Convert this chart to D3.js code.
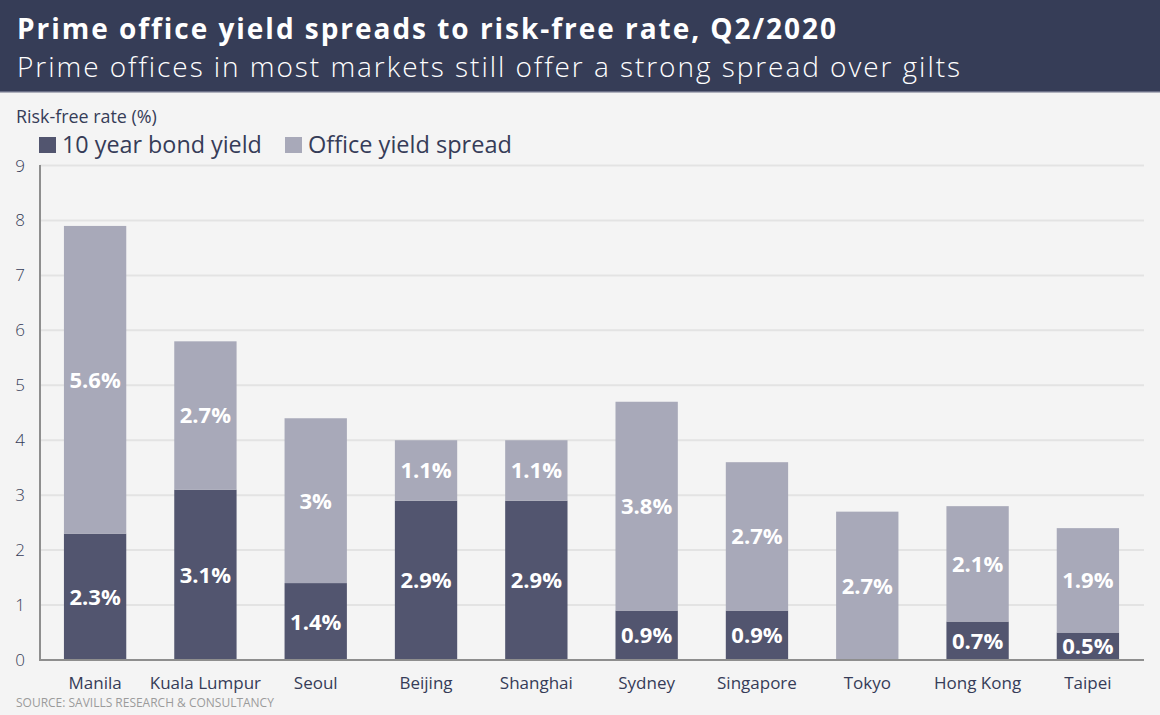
<!DOCTYPE html>
<html>
<head>
<meta charset="utf-8">
<script src="https://cdn.jsdelivr.net/npm/d3@7"></script>
<style>
  html, body { margin: 0; padding: 0; background: #f4f4f4; }
  svg { display: block; }
  text { font-family: "Open Sans", "DejaVu Sans", sans-serif; }
</style>
</head>
<body>
<div id="container"></div>
<script>
var cities = ['Manila', 'Kuala Lumpur', 'Seoul', 'Beijing', 'Shanghai', 'Sydney', 'Singapore', 'Tokyo', 'Hong Kong', 'Taipei'];
var bondYield = [2.3, 3.1, 1.4, 2.9, 2.9, 0.9, 0.9, 0, 0.7, 0.5];
var yieldSpread = [5.6, 2.7, 3, 1.1, 1.1, 3.8, 2.7, 2.7, 2.1, 1.9];
var yTicks = [0, 1, 2, 3, 4, 5, 6, 7, 8, 9];
var seriesNames = ['10 year bond yield', 'Office yield spread'];

var width = 1160, height = 715;
var dark = '#52556f', light = '#a8a9b9', ink = '#363c58';

var svg = d3.select('#container')
      .append('svg')
      .attr('width', width)
      .attr('height', height);

svg.append('rect').attr('width', width).attr('height', height).attr('fill', '#f4f4f4');

// fit a text element to a target width by tweaking its font-size
var fit = function(t, w) {
  var len = t.node().getComputedTextLength();
  var fs = parseFloat(t.attr('font-size'));
  t.attr('font-size', (fs * w / len).toFixed(2));
};
// same, but keep the size and spread the letters instead
var spread = function(t, w) {
  var len = t.node().getComputedTextLength();
  var n = t.text().length;
  t.attr('letter-spacing', ((w - len) / n).toFixed(3));
};

// header
svg.append('rect').attr('width', width).attr('height', 92).attr('fill', '#363d57');
svg.append('rect').attr('y', 91).attr('width', width).attr('height', 1.5).attr('fill', '#6a6f86');
var title = svg.append('text')
      .attr('x', 17).attr('y', 39)
      .attr('font-size', 28).attr('font-weight', 700)
      .attr('fill', '#fff')
      .text('Prime office yield spreads to risk-free rate, Q2/2020');
spread(title, 821);
var sub = svg.append('text')
      .attr('x', 17).attr('y', 77)
      .attr('font-size', 28).attr('font-weight', 300)
      .attr('fill', '#fff')
      .text('Prime offices in most markets still offer a strong spread over gilts');
spread(sub, 945);

var axisTitle = svg.append('text')
  .attr('x', 16).attr('y', 123)
  .attr('font-size', 16).attr('font-weight', 500)
  .attr('fill', ink)
  .text('Risk-free rate (%)');
fit(axisTitle, 141);

// legend
var legendX = [39, 285];
var legendW = [200, 204];
seriesNames.forEach(function(name, i) {
  svg.append('rect')
    .attr('x', legendX[i]).attr('y', 137)
    .attr('width', 17).attr('height', 16)
    .attr('fill', i === 0 ? dark : light);
  var t = svg.append('text')
    .attr('x', legendX[i] + 23).attr('y', 153)
    .attr('font-size', 22).attr('font-weight', 500)
    .attr('fill', ink)
    .text(name);
  fit(t, legendW[i]);
});

// scales
var x = d3.scaleBand()
      .domain(cities)
      .range([40, 1143])
      .paddingInner(0.435)
      .paddingOuter(0.217);
var y = d3.scaleLinear().domain([0, 9]).range([660, 165.5]);

// grid
svg.append('g').selectAll('line')
  .data(yTicks.filter(function(d) { return d > 0; }))
  .enter()
  .append('line')
  .attr('x1', 40).attr('x2', 1144)
  .attr('y1', function(d) { return y(d); })
  .attr('y2', function(d) { return y(d); })
  .style('stroke', '#e3e3e3')
  .style('stroke-width', 2);

svg.append('g').selectAll('text')
  .data(yTicks)
  .enter()
  .append('text')
  .attr('x', 20)
  .attr('y', function(d) { return y(d) + 6; })
  .attr('text-anchor', 'middle')
  .attr('font-size', 17).attr('font-weight', 300)
  .attr('fill', ink)
  .text(function(d) { return d; });

// bars
var rows = cities.map(function(c, i) {
  return {city: c, bond: bondYield[i], spread: yieldSpread[i]};
});
var segs = [];
rows.forEach(function(r) {
  segs.push({city: r.city, y0: 0, y1: r.bond, v: r.bond, color: dark});
  segs.push({city: r.city, y0: r.bond, y1: r.bond + r.spread, v: r.spread, color: light});
});

var bars = svg.append('g');
bars.selectAll('rect')
  .data(segs)
  .enter()
  .append('rect')
  .attr('x', function(d) { return x(d.city); })
  .attr('width', x.bandwidth())
  .attr('y', function(d) { return y(d.y1); })
  .attr('height', function(d) { return y(d.y0) - y(d.y1); })
  .attr('fill', function(d) { return d.color; });

bars.selectAll('text')
  .data(segs.filter(function(d) { return d.v > 0; }))
  .enter()
  .append('text')
  .attr('x', function(d) { return x(d.city) + x.bandwidth() / 2; })
  .attr('y', function(d) { return (y(d.y0) + y(d.y1)) / 2 + 8; })
  .attr('text-anchor', 'middle')
  .attr('font-size', 22).attr('font-weight', 700)
  .attr('fill', '#fff')
  .text(function(d) { return d.v + '%'; });

// axes lines
svg.append('line')
  .attr('x1', 40).attr('x2', 40).attr('y1', 165).attr('y2', 661)
  .style('stroke', '#8e8e8e').style('stroke-width', 2);
svg.append('line')
  .attr('x1', 39).attr('x2', 1144).attr('y1', 660).attr('y2', 660)
  .style('stroke', '#8e8e8e').style('stroke-width', 2);

svg.append('g').selectAll('text')
  .data(cities)
  .enter()
  .append('text')
  .attr('x', function(d) { return x(d) + x.bandwidth() / 2; })
  .attr('y', 689)
  .attr('text-anchor', 'middle')
  .attr('font-size', 17).attr('font-weight', 400)
  .attr('fill', ink)
  .text(function(d) { return d; });

var src = svg.append('text')
  .attr('x', 16).attr('y', 707)
  .attr('font-size', 12.5)
  .attr('fill', '#9b9b9b')
  .text('SOURCE: SAVILLS RESEARCH & CONSULTANCY');
fit(src, 258);
</script>
</body>
</html>
